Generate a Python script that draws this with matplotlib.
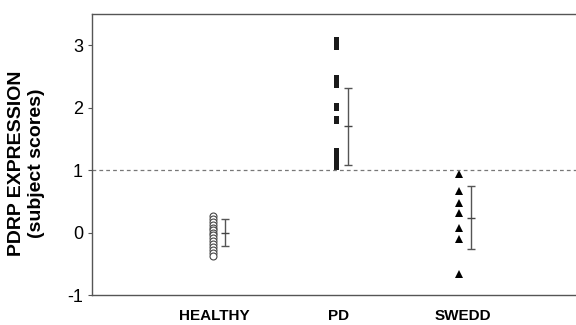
import matplotlib
matplotlib.use("Agg")
import matplotlib.pyplot as plt
import numpy as np

plt.rcParams["font.family"] = ["Liberation Sans", "DejaVu Sans"]
plt.rcParams["axes.unicode_minus"] = False

groups = ["HEALTHY", "PD", "SWEDD"]

healthy = [0.27, 0.22, 0.17, 0.12, 0.08, 0.04, 0.0, -0.04, -0.08,
           -0.13, -0.18, -0.23, -0.28, -0.33, -0.38]
pd_scores = [3.07, 3.03, 2.99, 2.46, 2.42, 2.38, 2.01, 1.80,
             1.29, 1.22, 1.14, 1.06]
swedd = [0.93, 0.66, 0.48, 0.31, 0.08, -0.10, -0.66]

means = [0.0, 1.70, 0.24]
sds = [0.22, 0.62, 0.50]

cutoff = 1.0

fig = plt.figure(figsize=(5.76, 3.25), dpi=100)
ax = fig.add_axes([92 / 576, 1 - 295 / 325, 1 - 92 / 576, (295 - 14) / 325])

# tall narrow rectangle marker for PD
rect = [(-0.3, -0.5), (0.3, -0.5), (0.3, 0.5), (-0.3, 0.5), (-0.3, -0.5)]

ax.plot(np.full(len(healthy), 1.0), healthy, linestyle="none", marker="o",
        markersize=5, markerfacecolor="white", markeredgecolor="#444444",
        markeredgewidth=0.8)
ax.plot(np.full(len(pd_scores), 2.0), pd_scores, linestyle="none", marker=rect,
        markersize=6, color="#1a1a1a", markeredgewidth=0)
ax.plot(np.full(len(swedd), 3.0), swedd, linestyle="none", marker="^",
        markersize=5.5, color="black", markeredgewidth=0)

ax.errorbar([1.1, 2.1, 3.1], means, yerr=sds, fmt="_", color="#444444",
            ecolor="#555555", elinewidth=1, capsize=3, capthick=1,
            markersize=6)

ax.axhline(cutoff, color="#777777", linestyle=(0, (3, 2.5)), linewidth=0.9)

ax.set_xlim(0.02, 3.95)
ax.set_ylim(-1, 3.5)
ax.set_yticks([-1, 0, 1, 2, 3])
ax.set_xticks([1.01, 2.02, 3.03])
ax.set_xticklabels(groups, fontsize=11, fontweight="bold")
ax.tick_params(axis="x", length=0, pad=10)
ax.tick_params(axis="y", labelsize=13, length=3, width=0.8, color="#555555")

ax.set_ylabel("PDRP EXPRESSION\n(subject scores)", fontsize=14,
              fontweight="bold", linespacing=1.25)
ax.yaxis.set_label_coords(-0.097, 0.47)

for side in ["left", "bottom", "top"]:
    ax.spines[side].set_color("#555555")
    ax.spines[side].set_linewidth(1.0)
ax.spines["right"].set_visible(False)

fig.savefig("out.png", dpi=100)
